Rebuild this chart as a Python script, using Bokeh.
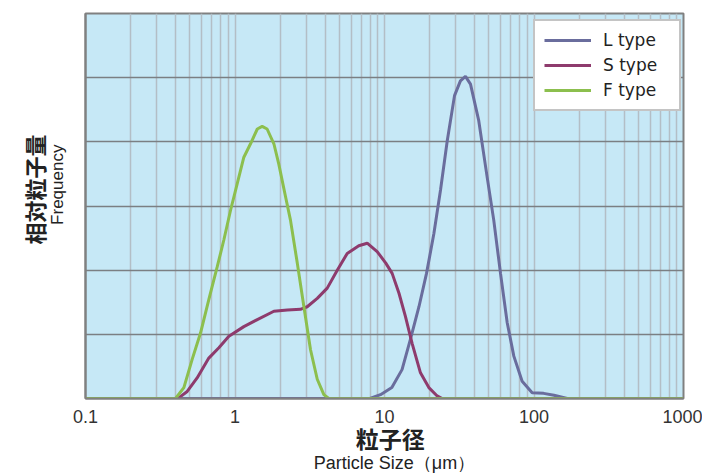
from bokeh.plotting import figure
from bokeh.models import FixedTicker, Legend, LinearAxis, LogAxis
from bokeh.embed import file_html
from bokeh.resources import INLINE

# ---- data ----
tick_values = [0.1, 1, 10, 100, 1000]
tick_labels = ["0.1", "1", "10", "100", "1000"]
y_grid_values = [1, 2, 3, 4, 5]

L_x = [0.1, 8.0, 9.4, 11.2, 13.1, 14.9, 17.0, 19.1, 21.4, 23.7, 26.3, 29.4, 32.2, 34.8,
       37.6, 42.7, 48.6, 53.8, 59.7, 66.2, 73.3, 83.3, 97.2, 116, 136, 167, 1000]
L_y = [0, 0, 0.06, 0.17, 0.45, 0.92, 1.43, 1.95, 2.57, 3.25, 4.02, 4.72, 4.95, 5.02,
       4.90, 4.33, 3.45, 2.78, 1.95, 1.18, 0.66, 0.27, 0.09, 0.08, 0.05, 0, 0]

S_x = [0.1, 0.40, 0.42, 0.479, 0.558, 0.668, 0.780, 0.910, 1.146, 1.41, 1.82, 2.24, 2.74,
       3.04, 3.55, 4.14, 4.83, 5.63, 6.73, 7.66, 8.93, 10.2, 11.25, 12.5, 13.8, 15.3, 17.4,
       19.8, 22.5, 24.3, 1000]
S_y = [0, 0, 0.01, 0.11, 0.32, 0.63, 0.79, 0.97, 1.12, 1.23, 1.36, 1.38, 1.39,
       1.43, 1.56, 1.72, 2.00, 2.26, 2.38, 2.42, 2.29, 2.11, 1.95, 1.64, 1.28, 0.86, 0.40,
       0.17, 0.04, 0, 0]

F_x = [0.1, 0.40, 0.455, 0.517, 0.588, 0.668, 0.760, 0.842, 0.933, 1.035, 1.146, 1.27,
       1.41, 1.52, 1.64, 1.82, 1.96, 2.18, 2.35, 2.61, 2.89, 3.20, 3.55, 3.93, 4.24, 1000]
F_y = [0, 0, 0.17, 0.61, 1.02, 1.54, 2.05, 2.47, 2.93, 3.35, 3.76, 3.97,
       4.20, 4.24, 4.20, 3.97, 3.66, 3.14, 2.78, 2.11, 1.43, 0.76, 0.30, 0.06, 0, 0]

series_names = ["L type", "S type", "F type"]
series_colors = ["#6a6d9d", "#8e3b6d", "#8cbf4e"]

p = figure(width=702, height=475, x_axis_type="log", x_range=(0.1, 1000), y_range=(0, 6),
           output_backend="svg", toolbar_location=None,
           min_border_left=85, min_border_right=19, min_border_top=13, min_border_bottom=76)

p.background_fill_color = "#c6e8f6"
p.border_fill_color = "white"
p.outline_line_color = "#808080"
p.outline_line_width = 2


def hide_ticks(ax):
    ax.major_tick_line_color = None
    ax.minor_tick_line_color = None
    ax.major_tick_out = 0
    ax.minor_tick_out = 0
    ax.major_tick_in = 0
    ax.minor_tick_in = 0


# primary x axis: tick labels only
minor = [m * 10.0 ** e for e in range(-1, 3) for m in range(2, 10)]
xa = p.xaxis[0]
xa.ticker = FixedTicker(ticks=tick_values, minor_ticks=minor)
xa.major_label_overrides = {v: t for v, t in zip(tick_values, tick_labels)}
xa.major_label_text_font = "Liberation Sans"
xa.major_label_text_font_size = "18px"
xa.major_label_text_color = "#333333"
xa.major_label_standoff = 11
hide_ticks(xa)
xa.axis_line_color = "#808080"
xa.axis_line_width = 2

# second x axis: Japanese title
xa2 = LogAxis(ticker=FixedTicker(ticks=[]), axis_label="\u2002粒子径")
hide_ticks(xa2)
xa2.axis_line_color = None
xa2.axis_label_text_font = "Noto Sans CJK JP"
xa2.axis_label_text_font_style = "bold"
xa2.axis_label_text_font_size = "23px"
xa2.axis_label_text_color = "#222222"
xa2.axis_label_standoff = -5
p.add_layout(xa2, "below")

# third x axis: English title
xa3 = LogAxis(ticker=FixedTicker(ticks=[]),
              axis_label="\u00a0\u00a0\u00a0\u00a0Particle Size（μm）")
hide_ticks(xa3)
xa3.axis_line_color = None
xa3.axis_label_text_font = "Liberation Sans"
xa3.axis_label_text_font_style = "normal"
xa3.axis_label_text_font_size = "18px"
xa3.axis_label_text_color = "#222222"
xa3.axis_label_standoff = -5
p.add_layout(xa3, "below")

# primary y axis: "Frequency"
ya = p.yaxis[0]
ya.ticker = FixedTicker(ticks=[])
hide_ticks(ya)
ya.axis_line_color = "#808080"
ya.axis_line_width = 2
ya.axis_label = "\u00a0" * 9 + "Frequency"
ya.axis_label_text_font = "Liberation Sans"
ya.axis_label_text_font_style = "normal"
ya.axis_label_text_font_size = "17px"
ya.axis_label_text_color = "#222222"
ya.axis_label_standoff = 19

ya2 = LinearAxis(ticker=FixedTicker(ticks=[]), axis_label="\u3000\u2002相対粒子量")
hide_ticks(ya2)
ya2.axis_line_color = None
ya2.axis_label_text_font = "Noto Sans CJK JP"
ya2.axis_label_text_font_style = "bold"
ya2.axis_label_text_font_size = "22px"
ya2.axis_label_text_color = "#222222"
ya2.axis_label_standoff = -5
p.add_layout(ya2, "left")

p.ygrid[0].ticker = FixedTicker(ticks=y_grid_values)
p.ygrid.grid_line_color = "#7b7f83"
p.ygrid.grid_line_width = 1.5
p.xgrid.grid_line_color = "#b3bec6"
p.xgrid.grid_line_width = 1.5
p.xgrid.minor_grid_line_color = "#b3bec6"
p.xgrid.minor_grid_line_width = 1.5

items = []
for xs, ys, name, col in zip([L_x, S_x, F_x], [L_y, S_y, F_y], series_names, series_colors):
    r = p.line(xs, ys, line_color=col, line_width=3)
    items.append((name, [r]))

legend = Legend(items=items, location=(448, 287))
legend.background_fill_color = "white"
legend.background_fill_alpha = 1
legend.border_line_color = "#8a8a8a"
legend.border_line_width = 2
legend.padding = 9
legend.margin = 0
legend.spacing = 5
legend.glyph_width = 47
legend.glyph_height = 20
legend.label_height = 20
legend.label_width = 67
legend.label_standoff = 12
legend.label_text_font = "DejaVu Sans"
legend.label_text_font_size = "17px"
legend.label_text_color = "#222222"
p.add_layout(legend, "center")

open("out.html", "w").write(file_html(p, INLINE))
